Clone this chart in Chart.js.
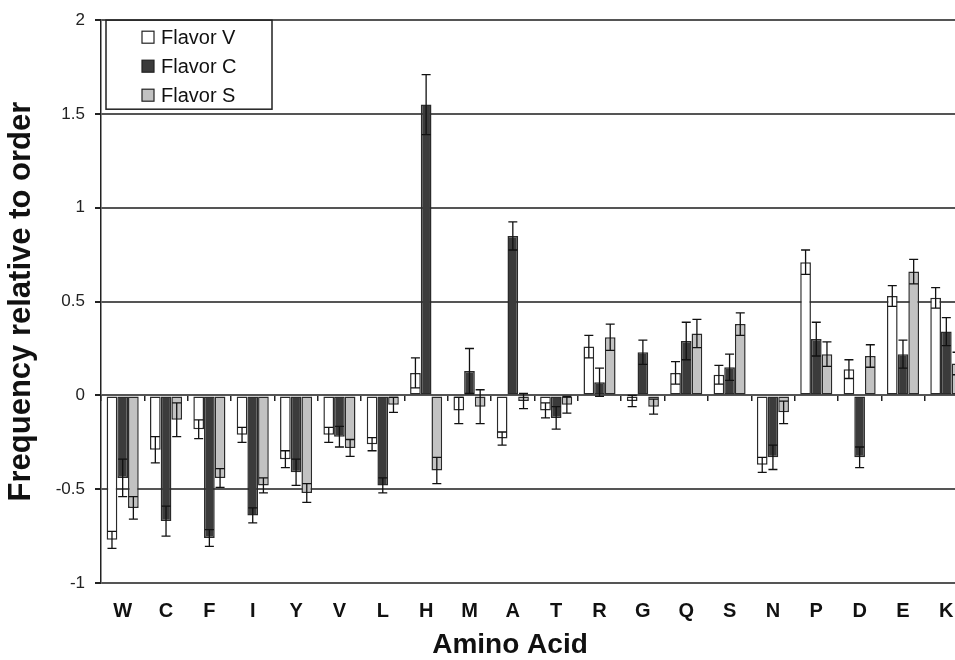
<!DOCTYPE html>
<html>
<head>
<meta charset="utf-8">
<script src="https://cdn.jsdelivr.net/npm/chart.js@4.4.1/dist/chart.umd.min.js"></script>
<style>
html, body { margin: 0; padding: 0; overflow: hidden; background: #fff; }
</style>
</head>
<body>
<canvas id="chart" width="975" height="660"></canvas>
<script>
const aminoAcids = ['W', 'C', 'F', 'I', 'Y', 'V', 'L', 'H', 'M', 'A', 'T', 'R', 'G', 'Q', 'S', 'N', 'P', 'D', 'E', 'K'];

const flavorV    = [-0.77, -0.29, -0.18, -0.21, -0.34, -0.21, -0.26, 0.12, -0.08, -0.23, -0.08, 0.26, -0.03, 0.12, 0.11, -0.37, 0.71, 0.14, 0.53, 0.52];
const flavorVErr = [0.045, 0.07, 0.05, 0.04, 0.045, 0.04, 0.035, 0.08, 0.07, 0.035, 0.04, 0.06, 0.03, 0.06, 0.05, 0.04, 0.065, 0.05, 0.055, 0.055];

const flavorC    = [-0.44, -0.67, -0.76, -0.64, -0.41, -0.22, -0.48, 1.55, 0.13, 0.85, -0.12, 0.07, 0.23, 0.29, 0.15, -0.33, 0.30, -0.33, 0.22, 0.34];
const flavorCErr = [0.10, 0.08, 0.045, 0.04, 0.07, 0.055, 0.04, 0.16, 0.12, 0.075, 0.06, 0.075, 0.065, 0.10, 0.07, 0.065, 0.09, 0.055, 0.075, 0.075];

const flavorS    = [-0.60, -0.13, -0.44, -0.48, -0.52, -0.28, -0.05, -0.40, -0.06, -0.03, -0.05, 0.31, -0.06, 0.33, 0.38, -0.09, 0.22, 0.21, 0.66, 0.17];
const flavorSErr = [0.06, 0.09, 0.05, 0.04, 0.05, 0.045, 0.04, 0.07, 0.09, 0.04, 0.045, 0.07, 0.04, 0.075, 0.06, 0.06, 0.065, 0.06, 0.065, 0.06];

const yTicks = [-1, -0.5, 0, 0.5, 1, 1.5, 2];

const errors = [flavorVErr, flavorCErr, flavorSErr];

// error bars: line from v-e to v+e with caps, drawn on top of the bars
const errorBars = {
  id: 'errorBars',
  afterDatasetsDraw(chart) {
    const ctx = chart.ctx;
    const y = chart.scales.y;
    ctx.save();
    ctx.strokeStyle = '#111';
    ctx.lineWidth = 1.3;
    chart.data.datasets.forEach((ds, di) => {
      const meta = chart.getDatasetMeta(di);
      meta.data.forEach((bar, i) => {
        const v = ds.data[i];
        const e = errors[di][i];
        const top = y.getPixelForValue(v + e);
        const bot = y.getPixelForValue(v - e);
        const x = bar.x;
        ctx.beginPath();
        ctx.moveTo(x, top); ctx.lineTo(x, bot);
        ctx.moveTo(x - 4.5, top); ctx.lineTo(x + 4.5, top);
        ctx.moveTo(x - 4.5, bot); ctx.lineTo(x + 4.5, bot);
        ctx.stroke();
      });
    });
    ctx.restore();
  }
};

// boxed legend in the top left corner of the plot, plus the x axis title
const legendBox = {
  id: 'legendBox',
  afterDraw(chart) {
    const ctx = chart.ctx;
    const a = chart.chartArea;
    const left = a.left + 5;
    const top = a.top;
    ctx.save();
    ctx.fillStyle = '#fff';
    ctx.fillRect(left, top, 166, 89);
    ctx.strokeStyle = '#222';
    ctx.lineWidth = 1.5;
    ctx.strokeRect(left, top, 166, 89);
    ctx.font = '20px Arial, "Liberation Sans", sans-serif';
    ctx.textBaseline = 'middle';
    chart.data.datasets.forEach((ds, i) => {
      const cy = top + 17 + i * 29;
      ctx.fillStyle = ds.backgroundColor;
      ctx.fillRect(left + 36, cy - 6, 12, 12);
      ctx.strokeStyle = '#222';
      ctx.lineWidth = 1.2;
      ctx.strokeRect(left + 36, cy - 6, 12, 12);
      ctx.fillStyle = '#111';
      ctx.fillText(ds.label, left + 55, cy + 1);
    });

    ctx.font = 'bold 28px Arial, "Liberation Sans", sans-serif';
    ctx.textAlign = 'center';
    ctx.fillStyle = '#111';
    ctx.fillText('Amino Acid', 510, 645);
    ctx.restore();
  }
};

const ctx = document.getElementById('chart').getContext('2d');

new Chart(ctx, {
  type: 'bar',
  data: {
    labels: aminoAcids,
    datasets: [
      { label: 'Flavor V', data: flavorV, backgroundColor: '#ffffff' },
      { label: 'Flavor C', data: flavorC, backgroundColor: '#3b3b3b' },
      { label: 'Flavor S', data: flavorS, backgroundColor: '#c2c2c2' }
    ]
  },
  options: {
    responsive: false,
    animation: false,
    layout: { padding: { top: 17, right: 7, bottom: 0, left: 0 } },
    datasets: {
      bar: {
        borderColor: '#2a2a2a',
        borderWidth: 1.5,
        borderSkipped: false,
        categoryPercentage: 0.74,
        barPercentage: 1.0
      }
    },
    plugins: {
      legend: { display: false },
      tooltip: { enabled: false }
    },
    scales: {
      x: {
        grid: { display: false, drawTicks: false },
        border: { display: false },
        ticks: {
          color: '#111',
          font: { family: 'Arial', size: 20, weight: 'bold' },
          padding: 16,
          maxRotation: 0,
          autoSkip: false
        },
        afterFit: s => { s.height = 77; }
      },
      x2: {
        type: 'category',
        position: { y: 0 },
        offset: true,
        grid: { offset: true, drawOnChartArea: false, tickLength: 6, color: '#222', lineWidth: 1.5 },
        border: { display: false },
        ticks: { display: false }
      },
      y: {
        min: -1,
        max: 2,
        afterBuildTicks: s => { s.ticks = yTicks.map(v => ({ value: v })); },
        ticks: {
          color: '#222',
          font: { family: 'Arial', size: 17 },
          padding: 10,
          callback: v => String(v)
        },
        grid: { color: '#555', lineWidth: 2, tickLength: 6, tickColor: '#222' },
        border: { color: '#222', width: 1.5 },
        title: {
          display: true,
          text: 'Frequency relative to order',
          color: '#111',
          font: { family: 'Arial', size: 31, weight: 'bold' },
          padding: { top: 3, bottom: 0 }
        },
        afterFit: s => { s.width = 101; }
      }
    }
  },
  plugins: [errorBars, legendBox]
});
</script>
</body>
</html>
